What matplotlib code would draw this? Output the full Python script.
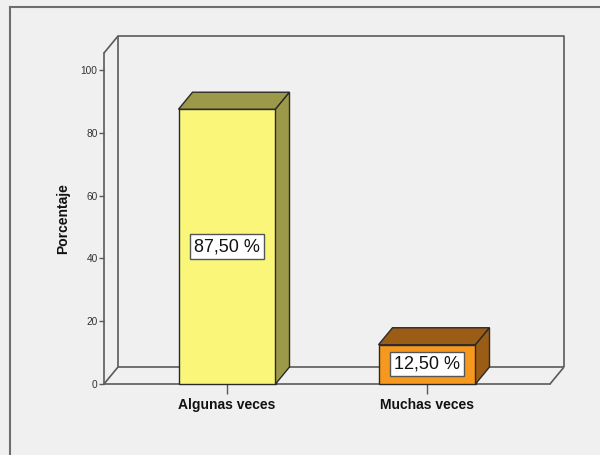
import matplotlib
matplotlib.use("Agg")
import matplotlib.pyplot as plt
from matplotlib.patches import Polygon
from matplotlib.lines import Line2D

categories = ["Algunas veces", "Muchas veces"]
values = [87.5, 12.5]
value_labels = ["87,50 %", "12,50 %"]
yticks = [0, 20, 40, 60, 80, 100]

front_colors = ["#f9f67a", "#f7981e"]
side_colors = ["#9c9a48", "#9b5c16"]

plt.rcParams['font.family'] = ['Liberation Sans', 'DejaVu Sans']
BG = "#f0f0f0"
LINE = "#5a5a5a"

fig = plt.figure(figsize=(6.0, 4.55), dpi=100, facecolor=BG)
ax = fig.add_axes([104/600, (455-384)/455, 446/600, 331/455])
ax.set_facecolor("none")

x0, x1 = -0.615, 1.615
ytop = 105.4
ax.set_xlim(x0, x1)
ax.set_ylim(0, ytop)

dx = 0.07     # depth offset in x data units
dy = 5.41     # depth offset in y data units
back_top = 110.8

# back wall and floor lines
wall_kw = dict(color=LINE, lw=1.2, clip_on=False, zorder=1, solid_capstyle='butt')
ax.plot([x0 + dx, x0 + dx, x1 + dx, x1 + dx], [dy, back_top, back_top, dy], **wall_kw)
ax.plot([x0 + dx, x1 + dx], [dy, dy], **wall_kw)
ax.plot([x0, x0 + dx], [ytop, back_top], **wall_kw)
ax.plot([x0, x0 + dx], [0, dy], **wall_kw)
ax.plot([x1, x1 + dx], [0, dy], **wall_kw)

# spines
for s in ["top", "right"]:
    ax.spines[s].set_visible(False)
for s in ["left", "bottom"]:
    ax.spines[s].set_color(LINE)
    ax.spines[s].set_linewidth(1.2)
    ax.spines[s].set_zorder(1)

hw = 0.2425
for i, (v, fc, sc) in enumerate(zip(values, front_colors, side_colors)):
    l, r = i - hw, i + hw
    ax.add_patch(Polygon([(l, 0), (r, 0), (r, v), (l, v)], closed=True,
                         facecolor=fc, edgecolor="#2a2a2a", lw=1.0, zorder=3, clip_on=False))
    ax.add_patch(Polygon([(l, v), (r, v), (r + dx, v + dy), (l + dx, v + dy)], closed=True,
                         facecolor=sc, edgecolor="#2a2a2a", lw=1.0, zorder=3, clip_on=False))
    ax.add_patch(Polygon([(r, 0), (r + dx, dy), (r + dx, v + dy), (r, v)], closed=True,
                         facecolor=sc, edgecolor="#2a2a2a", lw=1.0, zorder=3, clip_on=False))
    ax.text(i, v / 2, value_labels[i], ha="center", va="center", fontsize=13,
            color="#111111", zorder=5,
            bbox=dict(boxstyle="square,pad=0.2", facecolor="white", edgecolor="#555555", lw=1.0))

ax.set_yticks(yticks)
ax.set_yticklabels([str(t) for t in yticks], fontsize=7.3, color="#333333")
ax.tick_params(axis="y", length=3.6, width=1.0, color=LINE, pad=1)
ax.set_xticks(range(len(categories)))
ax.set_xticklabels(categories, fontsize=10, fontweight="bold", color="#111111")
ax.tick_params(axis="x", length=7, width=1.0, color=LINE, pad=3)

fig.text(63/600, 1 - 219/455, "Porcentaje", rotation=90, ha="center", va="center",
         fontsize=10, fontweight="bold", color="#111111")

# outer frame
fig.add_artist(Line2D([10/600, 10/600], [0, 1 - 7/455], transform=fig.transFigure,
                      color="#6e6e6e", lw=1.5))
fig.add_artist(Line2D([10/600, 1], [1 - 7/455, 1 - 7/455], transform=fig.transFigure,
                      color="#6e6e6e", lw=1.5))

fig.savefig("out.png", dpi=100, facecolor=BG)
